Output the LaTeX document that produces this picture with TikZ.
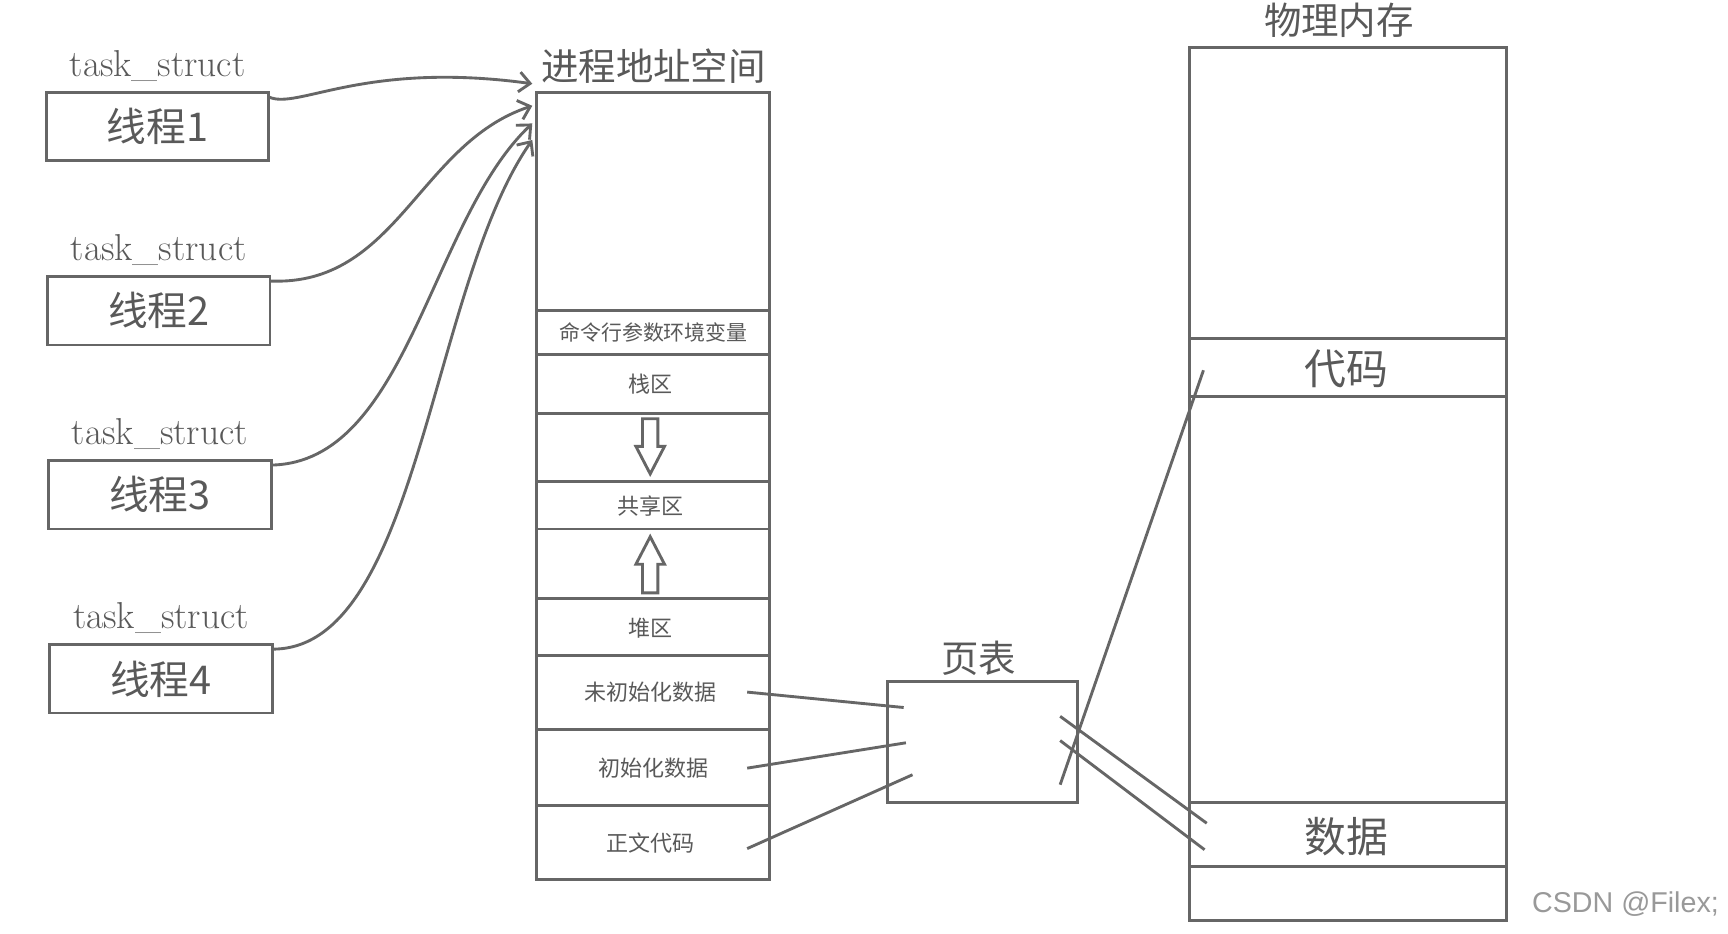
\documentclass[tikz,border=0pt]{standalone}
\usepackage{fontspec}
\newfontfamily\cjk{Noto Sans CJK SC}
\usetikzlibrary{arrows.meta}
\begin{document}
\begin{tikzpicture}[x=0.5pt,y=-0.5pt,
  ln/.style={draw=black!60,line width=1.3pt},
  lbl/.style={text=black!65,inner sep=0pt},
  thr/.style={lbl,font=\cjk\fontsize{18}{20}\selectfont},
  ts/.style={lbl,font=\fontsize{17}{18}\selectfont},
  sm/.style={lbl,font=\cjk\fontsize{10}{12}\selectfont},
  big/.style={lbl,font=\cjk\fontsize{17}{19}\selectfont},
  cv/.style={ln,-{Straight Barb[length=5pt,width=9pt]}}]
\useasboundingbox (0,0) rectangle (1568,847);
\fill[white] (0,0) rectangle (1568,847);
% threads
\foreach \i/\y in {1/84,2/251,3/418,4/585}{
  \pgfmathsetmacro\xo{42+(\i-1)}
  \draw[ln] (\xo,\y) rectangle ++(202,62);
  \node[thr] (t\i) at (\xo+101,\y+31) {线程\i};
  \node[ts] (s\i) at (\xo+101,\y-24) {task\_struct};
  \coordinate (c\i) at (\xo+202,\y+4);
}
% address space
\draw[ln] (487,84) rectangle (698,798);
\foreach \y in {282,322,375,437,480,543,595,662,731}{\draw[ln] (487,\y)--(698,\y);}
\node[big] (as) at (593,60) {进程地址空间};
\node[sm,font=\cjk\fontsize{9.5}{11}\selectfont] (env) at (593,302) {命令行参数环境变量};
\node[sm] (stk) at (590,349) {栈区};
\node[sm] (shr) at (590,459) {共享区};
\node[sm] (hp) at (590,570) {堆区};
\node[sm] (ud) at (590,628) {未初始化数据};
\node[sm] (id) at (593,697) {初始化数据};
\node[sm] (tx) at (590,765) {正文代码};
\draw[ln] (583,380)--(597,380)--(597,405)--(603,405)--(590,430)--(577,405)--(583,405)--cycle;
\draw[ln] (583,538)--(597,538)--(597,512)--(603,512)--(590,487)--(577,512)--(583,512)--cycle;
\coordinate (a1) at (483,76);\coordinate (a2) at (483,96);
\coordinate (a3) at (483,112);\coordinate (a4) at (483,127);
\draw[cv] (c1) .. controls (270,100) and (330,55) .. (a1);
\draw[cv] (c2) .. controls (360,260) and (380,130) .. (a2);
\draw[cv] (c3) .. controls (370,420) and (390,200) .. (a3);
\draw[cv] (c4) .. controls (380,590) and (390,260) .. (a4);
% page table
\draw[ln] (805,618) rectangle (978,728);
\node[big] (pt) at (888,597) {页表};
% physical
\draw[ln] (1079,43) rectangle (1367,835);
\foreach \y in {307,360,728,786}{\draw[ln] (1079,\y)--(1367,\y);}
\node[big] (pm) at (1215,18) {物理内存};
\node[big,font=\cjk\fontsize{19}{21}\selectfont] (code) at (1222,335) {代码};
\node[big,font=\cjk\fontsize{19}{21}\selectfont] (data) at (1222,759) {数据};
% connectors
\coordinate (u1) at (678,628);\coordinate (u2) at (820,642);
\coordinate (i1) at (678,697);\coordinate (i2) at (822,674);
\coordinate (x1) at (678,770);\coordinate (x2) at (828,703);
\draw[ln] (u1)--(u2); \draw[ln] (i1)--(i2); \draw[ln] (x1)--(x2);
\coordinate (p1) at (962,712);\coordinate (q1) at (1092,336);
\coordinate (p2) at (962,650);\coordinate (q2) at (1095,747);
\coordinate (p3) at (962,672);\coordinate (q3) at (1093,771);
\draw[ln] (p1)--(q1); \draw[ln] (p2)--(q2); \draw[ln] (p3)--(q3);
\node[lbl,text=black!40,font=\fontspec{Liberation Sans}\fontsize{13}{14}\selectfont] (wm) at (1475,820) {CSDN @Filex;};
\end{tikzpicture}
\end{document}
